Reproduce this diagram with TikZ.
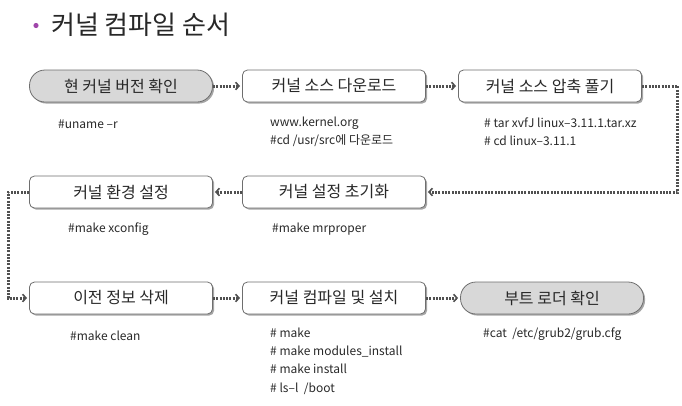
\documentclass[tikz,border=0pt]{standalone}
\usepackage{fontspec}
\setmainfont{Noto Sans CJK KR}
\usepackage{tikz}
\usetikzlibrary{arrows.meta,shadows}
\definecolor{StepLineColor}{RGB}{110,110,110}
\definecolor{StepFlowColor}{RGB}{80,80,80}
\definecolor{StepPillColor}{RGB}{216,216,216}
\definecolor{StepTextColor}{RGB}{40,40,40}
\definecolor{TitleDotColor}{RGB}{160,70,170}

\begin{document}
\begin{tikzpicture}[x=1pt,y=-1pt,
  stepbox/.style={draw=StepLineColor,fill=white,line width=0.8pt,rounded corners=5pt,
    minimum width=183pt,minimum height=32pt,inner sep=0pt,text=StepTextColor,
    font=\fontsize{16}{18}\selectfont,
    drop shadow={shadow xshift=1.6pt,shadow yshift=-1.6pt,fill=gray!70,opacity=1}},
  pillbox/.style={stepbox,fill=StepPillColor,rounded corners=15.5pt},
  cmd/.style={anchor=west,align=left,inner sep=0pt,text=StepTextColor,
    font=\fontsize{12}{18.3}\selectfont},
  flow/.style={draw=StepFlowColor,line width=3pt,dash pattern=on 2pt off 1.3pt,
    -{Straight Barb[length=3.5pt,width=7.5pt,line width=1.6pt]},shorten >=2pt}]
\useasboundingbox (0,0) rectangle (682,405);
% title
\fill[TitleDotColor] (36,25.5) circle (2.6pt);
\node[anchor=west,inner sep=0pt,text=StepTextColor,font=\fontsize{26}{28}\selectfont] (title) at (51,25) {커널 컴파일 순서};
% steps
\node[pillbox] (n0) at (121,86) {현 커널 버전 확인};
\node[stepbox] (n1) at (334,86) {커널 소스 다운로드};
\node[stepbox] (n2) at (550,86) {커널 소스 압축 풀기};
\node[stepbox] (n3) at (334,192) {커널 설정 초기화};
\node[stepbox] (n4) at (121,192) {커널 환경 설정};
\node[stepbox] (n5) at (121,298) {이전 정보 삭제};
\node[stepbox] (n6) at (334,298) {커널 컴파일 및 설치};
\node[pillbox] (n7) at (552,298) {부트 로더 확인};
% commands
\node[cmd] (c0) at (58,124) {\#uname –r};
\node[cmd] (c1) at (270,132) {www.kernel.org\\\#cd /usr/src에 다운로드};
\node[cmd] (c2) at (484,132) {\# tar xvfJ linux–3.11.1.tar.xz\\\# cd linux–3.11.1};
\node[cmd] (c3) at (272,229) {\#make mrproper};
\node[cmd] (c4) at (68,229) {\#make xconfig};
\node[cmd] (c5) at (70,336) {\#make clean};
\node[cmd] (c6) at (270,361) {\# make\\\# make modules\_install\\\# make install\\\# ls–l\ \ /boot};
\node[cmd] (c7) at (483,334) {\#cat\ \ /etc/grub2/grub.cfg};
% flow
\foreach \a/\b in {n0/n1,n1/n2,n3/n4,n5/n6,n6/n7} {
  \draw[flow] (\a) -- (\b);
}
\draw[flow] (n2.east) -- ++(36,0) |- (n3.east);
\draw[flow] (n4.west) -- ++(-21,0) |- (n5.west);
\end{tikzpicture}
\end{document}
